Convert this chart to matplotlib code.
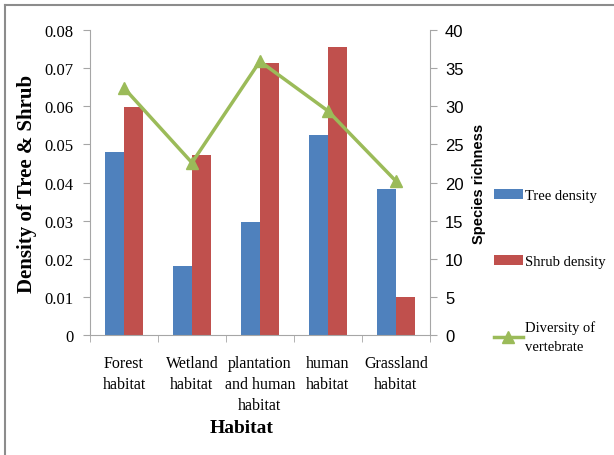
import numpy as np
import matplotlib
matplotlib.use("Agg")
import matplotlib.pyplot as plt
from matplotlib.lines import Line2D

# datos
habitats = ["Forest\nhabitat", "Wetland\nhabitat", "plantation\nand human\nhabitat",
            "human\nhabitat", "Grassland\nhabitat"]
tree_density = [0.048, 0.018, 0.0296, 0.0525, 0.0383]
shrub_density = [0.0599, 0.0472, 0.0713, 0.0755, 0.0100]
diversity = [32.4, 22.6, 35.9, 29.4, 20.2]

azul = "#4F81BD"
rojo = "#C0504D"
verde = "#9BBB59"
gris = "#A6A6A6"
serif = "Liberation Serif"
sans = "Liberation Sans"

plt.rcParams["font.family"] = [serif, "DejaVu Serif"]

fig = plt.figure(figsize=(6.14, 4.56), dpi=100)
ax = fig.add_axes([0.1466, 0.263, 0.5534, 0.669])

x = np.arange(len(habitats))
w = 0.28
ax.bar(x - w / 2, tree_density, w, color=azul, label="Tree density")
ax.bar(x + w / 2, shrub_density, w, color=rojo, label="Shrub density")

ax.set_xlim(-0.5, len(habitats) - 0.5)
ax.set_ylim(0, 0.08)
ax.set_yticks(np.arange(0, 0.081, 0.01))
ax.set_yticklabels(["0"] + [f"{v:.2f}" for v in np.arange(0.01, 0.081, 0.01)])
ax.set_xticks(x)
ax.set_xticklabels(habitats, linespacing=1.45)
ax.set_xticks(np.arange(-0.5, len(habitats)), minor=True)
ax.tick_params(axis="x", which="major", length=0, pad=14, labelsize=11.5)
ax.tick_params(axis="x", which="minor", length=5, color=gris)
ax.tick_params(axis="y", length=5, color=gris, pad=7, labelsize=12)
ax.set_xlabel("Habitat", fontsize=14, fontweight="bold")
ax.xaxis.set_label_coords(0.447, -0.275)
ax.set_ylabel("Density of Tree & Shrub", fontsize=15, fontweight="bold")
ax.yaxis.set_label_coords(-0.155, 0.5)

for s in ["top", "right"]:
    ax.spines[s].set_visible(False)
for s in ["left", "bottom"]:
    ax.spines[s].set_color(gris)

# eje derecho: riqueza de especies
ax2 = ax.twinx()
ax2.plot(x, diversity, color=verde, lw=2.5, marker="^", markersize=8,
         label="Diversity of\nvertebrate")
ax2.set_ylim(0, 40)
ax2.set_yticks(range(0, 41, 5))
ax2.tick_params(axis="y", length=5, color=gris, labelsize=12, pad=6,
                labelfontfamily=sans)
ax2.set_ylabel("Species richness", fontfamily=sans, fontsize=10.5,
               fontweight="bold", labelpad=6)
for s in ["top", "left", "bottom"]:
    ax2.spines[s].set_visible(False)
ax2.spines["right"].set_color(gris)

# leyenda
h1, l1 = ax.get_legend_handles_labels()
h2, l2 = ax2.get_legend_handles_labels()
leg = fig.legend(h1 + h2, l1 + l2, loc="upper left", bbox_to_anchor=(0.783, 0.612),
                 frameon=False, prop={"size": 10.5},
                 labelspacing=3.6, handlelength=2.0, handletextpad=0.1)
leg.get_texts()[2].set_linespacing(1.6)

# borde de la figura
fig.add_artist(Line2D([0.008, 1.0], [0.987, 0.987], color="#8C8C8C", lw=1.5))
fig.add_artist(Line2D([0.008, 0.008], [0.0, 0.987], color="#8C8C8C", lw=1.5))

fig.savefig("out.png", dpi=100)
